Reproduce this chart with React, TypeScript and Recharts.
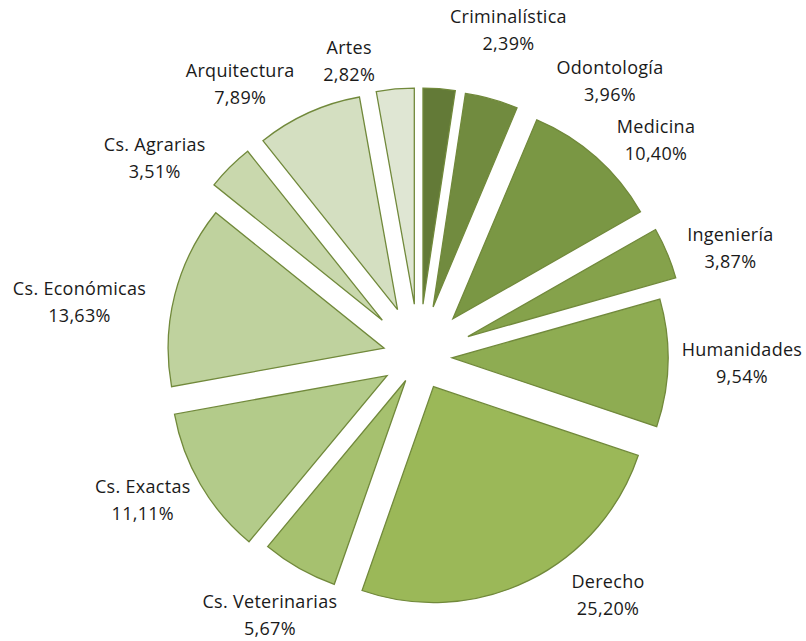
import { Cell, Pie, PieChart, Sector } from 'recharts';

// Distribución por facultad: torta "explotada" en verdes, etiquetas nombre + % afuera.
const careers = [
  'Criminalística',
  'Odontología',
  'Medicina',
  'Ingeniería',
  'Humanidades',
  'Derecho',
  'Cs. Veterinarias',
  'Cs. Exactas',
  'Cs. Económicas',
  'Cs. Agrarias',
  'Arquitectura',
  'Artes',
];
const shares = [2.39, 3.96, 10.4, 3.87, 9.54, 25.2, 5.67, 11.11, 13.63, 3.51, 7.89, 2.82];

const data = careers.map((name, i) => ({ name, value: shares[i] }));

const COLORS = [
  '#637a37', '#718b3f', '#7a9744', '#85a24b', '#8eac52', '#9bb858',
  '#a6c16f', '#b3cb8a', '#bfd29e', '#c9d8ad', '#d4dfc1', '#dfe6d3',
];
const STROKE = '#71893b';

// cuánto se separa cada porción del centro (px)
const EXPLODE = [53, 52, 51, 53, 33, 33, 27, 37, 36, 52, 52, 53];
// ajuste de las etiquetas: giro (grados) y radio (px) respecto del centro
const LABEL_SHIFT = [11, 18.9, 6, 3.4, -0.4, -12.4, 0.5, 2.9, -5, -8.1, -8.9, -8.2];
const LABEL_R = [339, 336, 321, 330, 323, 304, 298, 311, 344, 331, 326, 304];

const CX = 419;
const CY = 357;
const R = 216;
const RAD = Math.PI / 180;
const FONT = '"Open Sans", Lato, sans-serif';

function ExplodedSlice(props: any) {
  const { cx, cy, midAngle, index } = props;
  const d = EXPLODE[index] ?? 0;
  const ox = cx + d * Math.cos(-midAngle * RAD);
  const oy = cy + d * Math.sin(-midAngle * RAD);
  return <Sector {...props} cx={ox} cy={oy} stroke={STROKE} strokeWidth={1.3} />;
}

function SliceLabel(props: any) {
  const { cx, cy, midAngle, index, value } = props;
  const theta = (90 - midAngle + LABEL_SHIFT[index]) * RAD;
  const r = LABEL_R[index];
  const x = cx + r * Math.sin(theta);
  const y = cy - r * Math.cos(theta);
  const pct = `${Number(value).toFixed(2).replace('.', ',')}%`;
  return (
    <text x={x} y={y} textAnchor="middle" fill="#1a1a1a" fontFamily={FONT} fontSize={18} letterSpacing={0.3}>
      <tspan x={x} y={y - 7}>{careers[index]}</tspan>
      <tspan x={x} y={y + 20}>{pct}</tspan>
    </text>
  );
}

export default function App() {
  return (
    <div style={{ position: 'absolute', left: 0, top: 0, width: 806, height: 641, background: '#fff' }}>
      <PieChart width={806} height={641} margin={{ top: 0, right: 0, bottom: 0, left: 0 }}>
        <Pie
          data={data}
          dataKey="value"
          nameKey="name"
          cx={CX}
          cy={CY}
          outerRadius={R}
          startAngle={90}
          endAngle={-270}
          shape={ExplodedSlice}
          label={SliceLabel}
          labelLine={false}
          isAnimationActive={false}
        >
          {data.map((entry, i) => (
            <Cell key={entry.name} fill={COLORS[i]} />
          ))}
        </Pie>
      </PieChart>
    </div>
  );
}
